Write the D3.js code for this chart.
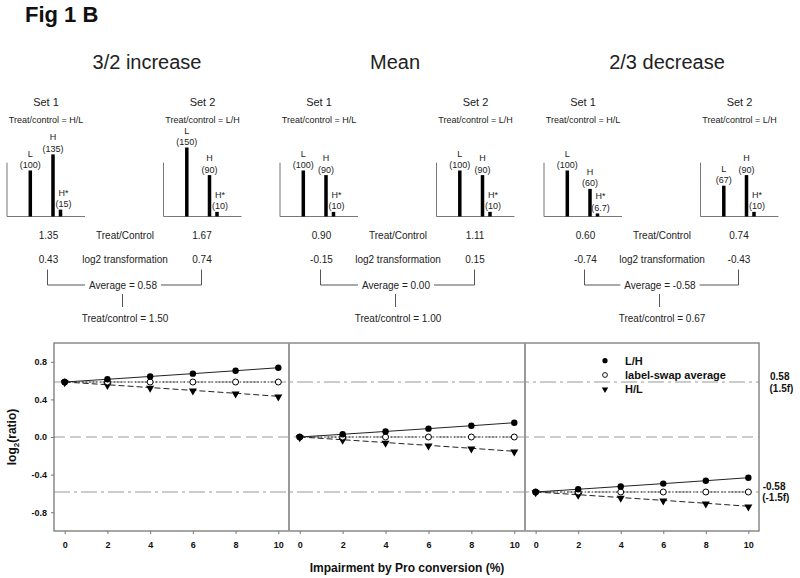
<!DOCTYPE html>
<html><head><meta charset="utf-8">
<script src="https://cdn.jsdelivr.net/npm/d3@7"></script>
<style>
body{margin:0;background:#fff;}
text{font-family:Arial,"Liberation Sans",sans-serif;}
</style>
</head><body>
<svg id="c" width="800" height="578"></svg>
<script>
// ---------- DATA ----------
const figTitle = "Fig 1 B";
const panelTitles = ["3/2 increase", "Mean", "2/3 decrease"];
const setNames = ["Set 1", "Set 2"];
const setRatioLabels = ["Treat/control = H/L", "Treat/control = L/H"];
const barNames = ["L", "H", "H*"];
const barValues = [
  [[100, 135, 15], [150, 90, 10]],
  [[100, 90, 10], [100, 90, 10]],
  [[100, 60, 6.7], [67, 90, 10]]
];
const treatControlValues = [["1.35", "1.67"], ["0.90", "1.11"], ["0.60", "0.74"]];
const log2Values = [["0.43", "0.74"], ["-0.15", "0.15"], ["-0.74", "-0.43"]];
const averageValues = ["0.58", "0.00", "-0.58"];
const overallRatios = ["1.50", "1.00", "0.67"];

const impairment = [0, 2, 4, 6, 8, 10];
const lhSeries = [
  [0.585, 0.614, 0.644, 0.674, 0.705, 0.737],
  [0.0, 0.029, 0.059, 0.089, 0.120, 0.152],
  [-0.585, -0.556, -0.526, -0.496, -0.465, -0.433]
];
const avgSeries = [
  [0.585, 0.585, 0.585, 0.585, 0.585, 0.585],
  [0, 0, 0, 0, 0, 0],
  [-0.585, -0.585, -0.585, -0.585, -0.585, -0.585]
];
const hlSeries = [
  [0.585, 0.556, 0.526, 0.496, 0.465, 0.433],
  [0.0, -0.029, -0.059, -0.089, -0.120, -0.152],
  [-0.585, -0.614, -0.644, -0.674, -0.705, -0.737]
];
const refLevels = [0.585, 0, -0.585];
const yTicks = [-0.8, -0.4, 0, 0.4, 0.8];
const xTicks = [0, 2, 4, 6, 8, 10];
const legendLabels = ["L/H", "label-swap average", "H/L"];
const refLabels = [["0.58", "(1.5f)"], ["-0.58", "(-1.5f)"]];
const yAxisTitle = ["log", "2", "(ratio)"];
const xAxisTitle = "Impairment by Pro conversion (%)";

// ---------- LAYOUT ----------
const svg = d3.select("#c");
const ink = "#222";
const panelX = [0, 273, 537];
const titleX = [147, 395, 667];
const setAxisX = [7, 163.5];
const miniW = 78;
const miniBase = 216.5;

svg.append("text").attr("x", 25).attr("y", 22).attr("font-size", 22).attr("font-weight", "bold")
  .attr("fill", "#111").text(figTitle);

const yMini = d3.scaleLinear().domain([0, 100]).range([miniBase, miniBase - 46]);
const xMini = d3.scaleOrdinal().domain(barNames).range([23.3, 46, 53.5]);
const labelShift = d3.scaleOrdinal().domain(barNames).range([0, 0, 3]);

panelTitles.forEach((t, p) => {
  const g = svg.append("g");
  const ox = panelX[p];
  g.append("text").attr("x", titleX[p]).attr("y", 68.5).attr("text-anchor", "middle")
    .attr("font-size", 20).attr("fill", ink).text(t);

  setNames.forEach((s, k) => {
    const ax = ox + setAxisX[k];
    const cx = ax + 39;
    g.append("text").attr("x", cx).attr("y", 105.5).attr("text-anchor", "middle")
      .attr("font-size", 11).attr("fill", ink).text(s);
    g.append("text").attr("x", cx).attr("y", 123).attr("text-anchor", "middle")
      .attr("font-size", 9).attr("fill", ink).text(setRatioLabels[k]);
    // mini axes
    g.append("line").attr("x1", ax).attr("x2", ax).attr("y1", yMini(117)).attr("y2", miniBase)
      .attr("stroke", "#777").attr("stroke-width", 1);
    g.append("line").attr("x1", ax).attr("x2", ax + miniW).attr("y1", miniBase).attr("y2", miniBase)
      .attr("stroke", "#777").attr("stroke-width", 1);
    const vals = barValues[p][k];
    barNames.forEach((b, i) => {
      const bx = ax + xMini(b);
      g.append("rect").attr("x", bx - 1.75).attr("width", 3.5)
        .attr("y", yMini(vals[i])).attr("height", miniBase - yMini(vals[i])).attr("fill", "#000");
      const lx = bx + labelShift(b);
      g.append("text").attr("x", lx).attr("y", yMini(vals[i]) - 14).attr("text-anchor", "middle")
        .attr("font-size", 9).attr("fill", ink).text(b);
      g.append("text").attr("x", lx).attr("y", yMini(vals[i]) - 2.5).attr("text-anchor", "middle")
        .attr("font-size", 9).attr("fill", ink).text("(" + vals[i] + ")");
    });
  });

  const v1 = ox + 48.5, v2 = ox + 202, mid = ox + 125;
  g.append("text").attr("x", v1).attr("y", 239).attr("text-anchor", "middle").attr("font-size", 10).attr("fill", ink).text(treatControlValues[p][0]);
  g.append("text").attr("x", v2).attr("y", 239).attr("text-anchor", "middle").attr("font-size", 10).attr("fill", ink).text(treatControlValues[p][1]);
  g.append("text").attr("x", mid).attr("y", 239).attr("text-anchor", "middle").attr("font-size", 10).attr("fill", ink).text("Treat/Control");
  g.append("text").attr("x", v1).attr("y", 263).attr("text-anchor", "middle").attr("font-size", 10).attr("fill", ink).text(log2Values[p][0]);
  g.append("text").attr("x", v2).attr("y", 263).attr("text-anchor", "middle").attr("font-size", 10).attr("fill", ink).text(log2Values[p][1]);
  g.append("text").attr("x", mid).attr("y", 263).attr("text-anchor", "middle").attr("font-size", 10).attr("fill", ink).text("log2 transformation");

  const avgT = g.append("text").attr("x", mid - 2).attr("y", 289).attr("text-anchor", "middle")
    .attr("font-size", 10).attr("fill", ink).text("Average = " + averageValues[p]);
  const tw = avgT.node().getComputedTextLength();
  const bl = ox + 47.5, br = ox + 201.5, by = 285, bt = 269.5;
  const st = {stroke: "#555", "stroke-width": 1, fill: "none"};
  const path1 = g.append("path").attr("d", `M${bl},${bt}V${by}H${mid - 2 - tw / 2 - 4}`);
  const path2 = g.append("path").attr("d", `M${mid - 2 + tw / 2 + 4},${by}H${br}V${bt}`);
  const stem = g.append("line").attr("x1", ox + 122.5).attr("x2", ox + 122.5).attr("y1", 294).attr("y2", 307);
  [path1, path2, stem].forEach(e => Object.entries(st).forEach(([k, v]) => e.attr(k, v)));
  g.append("text").attr("x", mid).attr("y", 322).attr("text-anchor", "middle").attr("font-size", 10)
    .attr("fill", ink).text("Treat/control = " + overallRatios[p]);
});

// ---------- BOTTOM PLOT ----------
const plotL = 54, plotR = 759, plotT = 343, plotB = 531;
const bounds = [54, 289, 525, 759];
const y = d3.scaleLinear().domain([-1, 1]).range([plotB, plotT]);
const bottom = svg.append("g");

// reference lines
const refStyle = [{dash: "16,4,3,4"}, {dash: "11,5"}, {dash: "16,4,3,4"}];
refLevels.forEach((v, i) => {
  bottom.append("line").attr("x1", plotL).attr("x2", plotR).attr("y1", y(v)).attr("y2", y(v))
    .attr("stroke", "#999").attr("stroke-width", 1).attr("stroke-dasharray", refStyle[i].dash);
});

// y axis
const yAxis = bottom.append("g").attr("transform", `translate(${plotL},0)`)
  .call(d3.axisLeft(y).tickValues(yTicks).tickFormat(d => d.toFixed(1)).tickSize(3).tickPadding(4));
yAxis.select(".domain").remove();
yAxis.selectAll("line").attr("stroke", "#777");
yAxis.selectAll("text").attr("font-size", 9).attr("font-weight", "bold").attr("fill", "#111")
  .attr("font-family", "Arial, 'Liberation Sans', sans-serif");

const triangle = d3.symbol().type(d3.symbolTriangle).size(28);

panelTitles.forEach((t, p) => {
  const x = d3.scaleLinear().domain([-0.5, 10.5]).range([bounds[p], bounds[p + 1]]);
  const xa = bottom.append("g").attr("transform", `translate(0,${plotB})`)
    .call(d3.axisBottom(x).tickValues(xTicks).tickSize(3).tickPadding(8));
  xa.select(".domain").remove();
  xa.selectAll("line").attr("stroke", "#777");
  xa.selectAll("text").attr("font-size", 9).attr("font-weight", "bold").attr("fill", "#111")
    .attr("font-family", "Arial, 'Liberation Sans', sans-serif");

  const line = d3.line().x((d, i) => x(impairment[i])).y(d => y(d));
  bottom.append("path").datum(hlSeries[p]).attr("d", line).attr("fill", "none")
    .attr("stroke", "#222").attr("stroke-width", 1).attr("stroke-dasharray", "6,3");
  bottom.append("path").datum(avgSeries[p]).attr("d", line).attr("fill", "none")
    .attr("stroke", "#222").attr("stroke-width", 1).attr("stroke-dasharray", "1.5,2");
  bottom.append("path").datum(lhSeries[p]).attr("d", line).attr("fill", "none")
    .attr("stroke", "#222").attr("stroke-width", 1);

  bottom.selectAll(null).data(hlSeries[p]).enter().append("path")
    .attr("d", triangle).attr("fill", "#000")
    .attr("transform", (d, i) => `translate(${x(impairment[i])},${y(d) + 0.5}) rotate(180)`);
  bottom.selectAll(null).data(avgSeries[p]).enter().append("circle")
    .attr("cx", (d, i) => x(impairment[i])).attr("cy", d => y(d)).attr("r", 3)
    .attr("fill", "#fff").attr("stroke", "#000").attr("stroke-width", 1);
  bottom.selectAll(null).data(lhSeries[p]).enter().append("circle")
    .attr("cx", (d, i) => x(impairment[i])).attr("cy", d => y(d)).attr("r", 3.2).attr("fill", "#000");
});

// box + dividers
bottom.append("rect").attr("x", plotL).attr("y", plotT).attr("width", plotR - plotL).attr("height", plotB - plotT)
  .attr("fill", "none").attr("stroke", "#777").attr("stroke-width", 1.3);
[bounds[1], bounds[2]].forEach(bx => {
  bottom.append("line").attr("x1", bx).attr("x2", bx).attr("y1", plotT).attr("y2", plotB)
    .attr("stroke", "#999").attr("stroke-width", 2);
});

// legend
const legY = [360.7, 375, 389.3];
const legX = 605;
bottom.append("circle").attr("cx", legX).attr("cy", legY[0]).attr("r", 2.6).attr("fill", "#000");
bottom.append("circle").attr("cx", legX).attr("cy", legY[1]).attr("r", 2.4).attr("fill", "#fff").attr("stroke", "#000").attr("stroke-width", 0.9);
bottom.append("path").attr("d", d3.symbol().type(d3.symbolTriangle).size(18))
  .attr("transform", `translate(${legX},${legY[2]}) rotate(180)`).attr("fill", "#000");
legendLabels.forEach((l, i) => {
  bottom.append("text").attr("x", 625).attr("y", legY[i] + 4).attr("font-size", 11).attr("font-weight", "bold")
    .attr("fill", "#111").text(l);
});

// right labels
const refLabelPos = [[770, 379.5, 392], [762.7, 489.5, 501]];
refLabels.forEach((pair, i) => {
  bottom.append("text").attr("x", refLabelPos[i][0]).attr("y", refLabelPos[i][1]).attr("font-size", 10)
    .attr("font-weight", "bold").attr("fill", "#111").text(pair[0]);
  bottom.append("text").attr("x", refLabelPos[i][0] - 0.5).attr("y", refLabelPos[i][2]).attr("font-size", 10)
    .attr("font-weight", "bold").attr("fill", "#111").text(pair[1]);
});

// axis titles
const yt = svg.append("text").attr("transform", "translate(16,437) rotate(-90)").attr("text-anchor", "middle")
  .attr("font-size", 12).attr("font-weight", "bold").attr("fill", "#111");
yt.append("tspan").text(yAxisTitle[0]);
yt.append("tspan").attr("font-size", 8).attr("dy", 3).text(yAxisTitle[1]);
yt.append("tspan").attr("dy", -3).text(yAxisTitle[2]);
svg.append("text").attr("x", 407).attr("y", 572).attr("text-anchor", "middle").attr("font-size", 12)
  .attr("font-weight", "bold").attr("fill", "#111").text(xAxisTitle);
</script>
</body></html>
